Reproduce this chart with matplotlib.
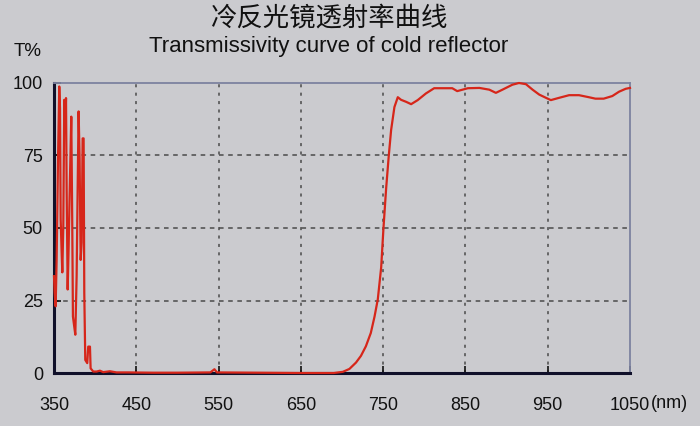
import numpy as np
import matplotlib.pyplot as plt

# ============================================================================
# DADOS (comprimento de onda [nm], transmitância [%])
# ============================================================================

uv_nm = [350, 350.8, 352, 353.2, 354.9, 356.4, 357.3, 358.1, 359.3, 360.1,
         361.3, 362.5, 363.7, 364.6, 365.4, 366.6, 367.8, 369.4, 371, 372.2,
         373, 374.6, 375.9, 377.5, 378.7, 379.9, 381.1, 382.4, 383.6, 384.8,
         386, 386.8, 388, 390.4, 391.6, 393.7, 394.5, 397.7, 401.8, 405.8,
         409.8, 418, 426]
uv_t = [33.4, 27.7, 23, 39, 74, 98.8, 91.3, 53, 41.6, 34.7,
        50.8, 94.2, 85.5, 94.8, 62.5, 28.8, 43.9, 67, 88.4, 50.8,
        19.5, 16, 13.2, 33.4, 62.5, 90.2, 74, 39, 45, 80.9,
        80.9, 27.7, 4.5, 3.4, 9.1, 9.1, 1.6, 0.5, 0.5, 0.8,
        0.3, 0.6, 0.2]

vis_nm = [440, 470, 500, 540, 545, 548, 600, 650, 690]
vis_t = [0.2, 0.1, 0.1, 0.2, 1.3, 0.2, 0.1, 0.0, 0.0]

rise_nm = [701, 709, 717, 723, 729, 735, 739.5, 743.5, 747.6, 750.4,
           753.6, 756.8, 759.7, 763.7, 767.8, 771.8, 778, 784, 792, 802,
           812, 834, 840, 853]
rise_t = [0.4, 1.4, 3.6, 5.9, 9.2, 13.8, 19.4, 25.4, 36.4, 50,
          63.5, 74.8, 83.8, 91.7, 95.1, 94.2, 93.5, 92.7, 94.1, 96.4,
          98.2, 98.2, 97.2, 98.2]

ir_nm = [867, 879, 887, 895, 907, 915, 923.5, 931.6, 939.7, 947.8,
         953.8, 964, 976, 988, 1000, 1008, 1018, 1028.5, 1036.7, 1044.8, 1050]
ir_t = [98.3, 97.7, 96.6, 97.7, 99.4, 100, 99.6, 97.7, 96, 94.9,
        94.1, 94.9, 95.8, 95.8, 95.1, 94.6, 94.6, 95.5, 97, 98, 98.3]

xticks = [350, 450, 550, 650, 750, 850, 950, 1050]
yticks = [0, 25, 50, 75, 100]

nm = np.array(uv_nm + vis_nm + rise_nm + ir_nm)
T = np.array(uv_t + vis_t + rise_t + ir_t)

# ============================================================================
# GRÁFICO
# ============================================================================

papel = '#cbcbcf'
plt.rcParams['font.family'] = ['Liberation Sans', 'DejaVu Sans']

fig = plt.figure(figsize=(7, 4.26), dpi=100, facecolor=papel)
ax = fig.add_axes([54/700, 53/426, 576/700, 290/426], facecolor=papel)

ax.plot(nm, T, color='#d6261a', linewidth=1.6, zorder=4, clip_on=False)

ax.set_xlim(350, 1050)
ax.set_ylim(0, 100)
ax.set_xticks(xticks)
ax.set_yticks(yticks)
ax.set_xticklabels([str(v) for v in xticks], fontsize=13)
ax.set_yticklabels([str(v) for v in yticks], fontsize=13)
ax.tick_params(axis='x', direction='in', length=5, width=1.2, pad=17, colors='#111111')
ax.tick_params(axis='y', direction='in', length=5, width=1.2, pad=8, colors='#111111')

# grade tracejada
for x in xticks[1:-1]:
    ax.axvline(x, color='#4a4a4a', linestyle=(0, (2, 3.5)), linewidth=1.1, zorder=1)
for y in yticks[1:-1]:
    ax.axhline(y, color='#4a4a4a', linestyle=(0, (3, 3)), linewidth=1.1, zorder=1)

ax.spines['left'].set_color('#10102a')
ax.spines['bottom'].set_color('#10102a')
ax.spines['left'].set_linewidth(2.2)
ax.spines['bottom'].set_linewidth(2.2)
ax.spines['top'].set_color('#7d82a0')
ax.spines['right'].set_color('#7d82a0')
ax.spines['top'].set_linewidth(1.3)
ax.spines['right'].set_linewidth(1.3)

fig.text(651/700, 1 - 403/426, '(nm)', fontsize=13, ha='left', va='center', color='#111111')

fig.text(0.469, 0.958, '冷反光镜透射率曲线', fontsize=19, ha='center', va='center',
         family=['Noto Sans CJK SC', 'DejaVu Sans'], color='#111111')
fig.text(0.469, 0.890, 'Transmissivity curve of cold reflector', fontsize=16,
         ha='center', va='center', color='#111111')
fig.text(14/700, 1 - 52/426, 'T%', fontsize=13.5, ha='left', va='center', color='#111111')

plt.savefig('out.png', dpi=100, facecolor=papel)
plt.close()
